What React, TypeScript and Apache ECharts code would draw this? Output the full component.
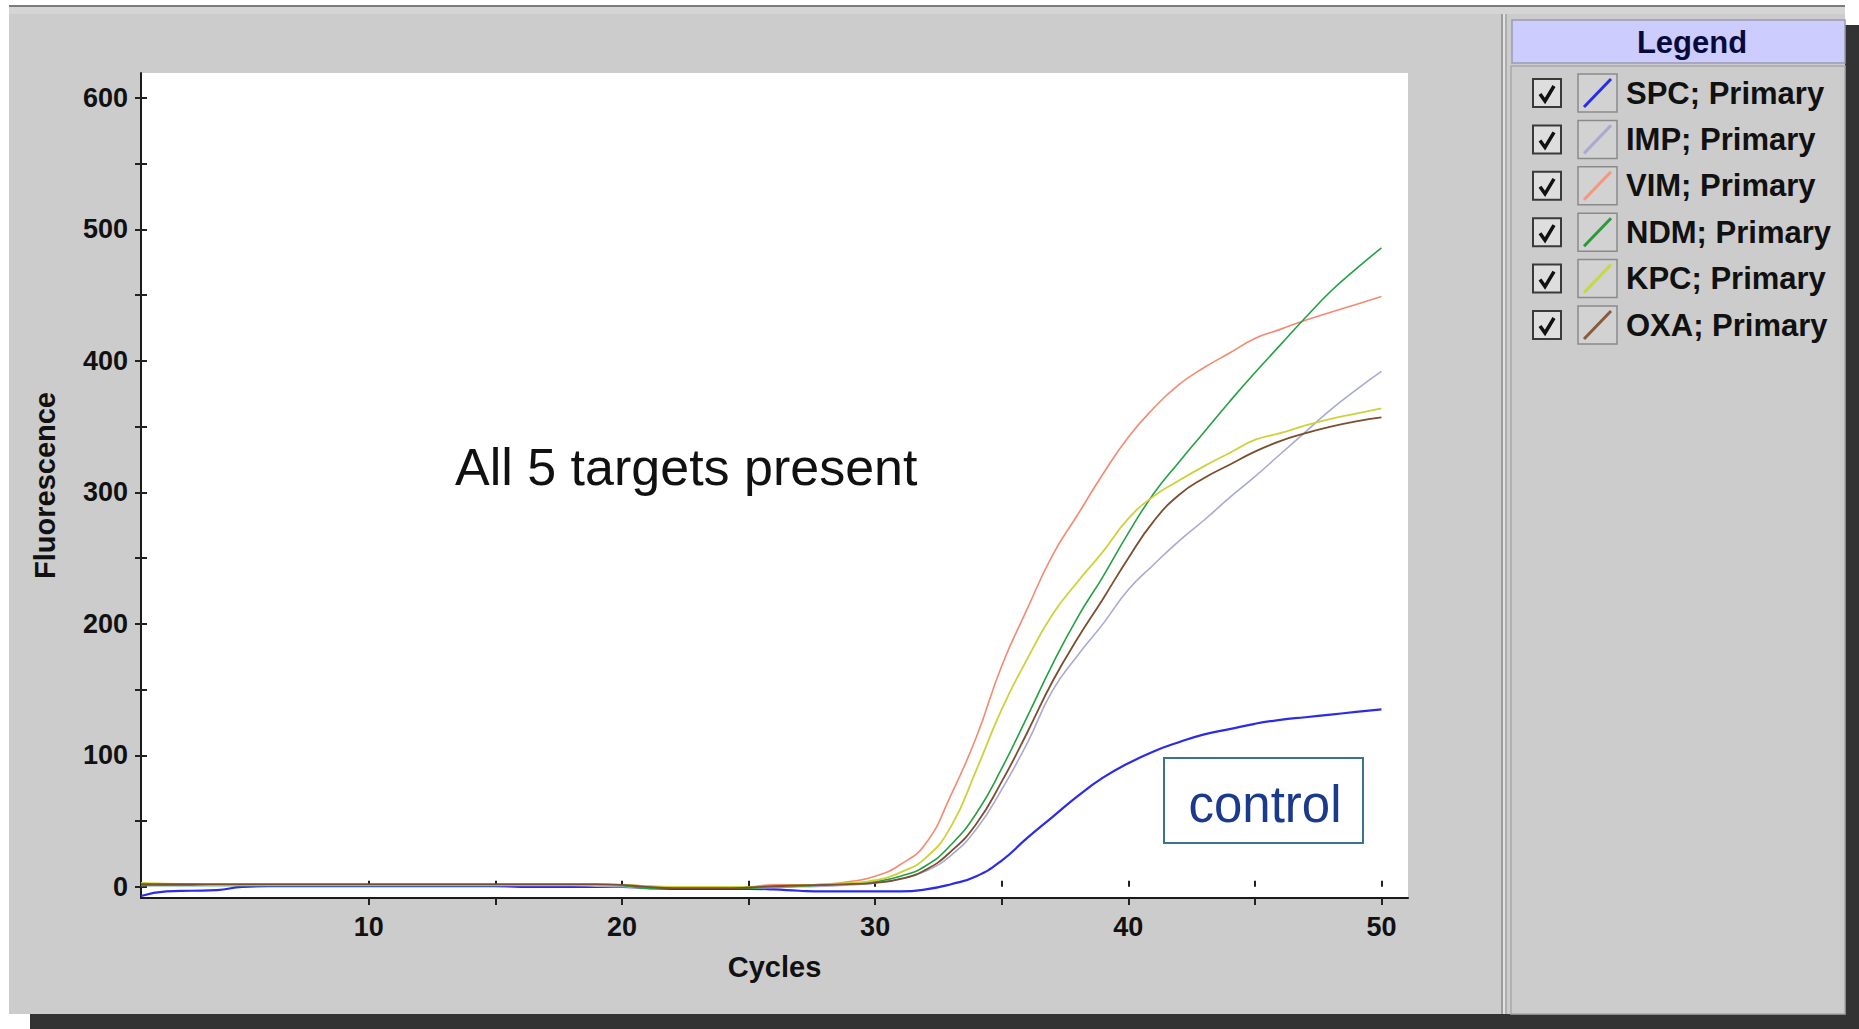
import React, { useEffect, useRef } from "react";
import * as echarts from "echarts";

const cycles = [1, 2, 3, 4, 5, 6, 7, 8, 9, 10, 11, 12, 13, 14, 15, 16, 17, 18, 19, 20, 21, 22, 23, 24, 25, 26, 27, 28, 29, 30, 31, 32, 33, 34, 35, 36, 37, 38, 39, 40, 41, 42, 43, 44, 45, 46, 47, 48, 49, 50];

const seriesNames = ["SPC; Primary", "IMP; Primary", "VIM; Primary", "NDM; Primary", "KPC; Primary", "OXA; Primary"];
const seriesColors = ["#2b2be8", "#a9a9d2", "#f38a72", "#23a043", "#cdd23a", "#7a4e2e"];
const swatchColors = ["#2b2be8", "#a9a9d2", "#f7967e", "#2a9a3a", "#c8d840", "#8a5a3a"];

const spc = [-7, -3.5, -3, -2.5, 0, 0.5, 0.5, 0.5, 0.5, 0.5, 0.5, 0.5, 0.5, 0.5, 0.5, 0, 0, 0, 0, 0, -1, -1.5, -1.5, -1.5, -1.5, -2, -3, -3.5, -3.5, -3.5, -3.5, -2, 2, 8, 20, 37, 53, 69, 83, 94, 103, 110, 116, 120, 124, 127, 129, 131, 133, 135];
const imp = [1, 1, 1, 1, 1, 1, 1, 1, 1, 1, 1, 1, 1, 1, 1, 1, 1, 1, 0.5, 0, -1, -1, -1, -1, -1, -0.5, 0, 0.5, 1.5, 3, 6, 12, 24, 44, 74, 109, 149, 176, 200, 226, 245, 263, 279, 296, 312, 329, 346, 363, 378, 392];
const vim = [2, 1.5, 1.5, 1.5, 1.5, 1.5, 1.5, 1.5, 1.5, 1.5, 1.5, 1.5, 1.5, 1.5, 1.5, 1.5, 1.5, 1.5, 1.5, 1.5, 0.5, -0.5, -0.5, -0.5, 0, 1.5, 1.5, 2, 4, 8, 17, 33, 70, 114, 168, 211, 252, 283, 314, 342, 364, 382, 395, 406, 417, 424, 431, 437, 443, 449];
const ndm = [1, 1, 1, 1, 1, 1, 1, 1, 1, 1, 1, 1, 1, 1, 1, 1.5, 1.5, 1.5, 1.5, 1, -1, -1, -1, -1, -1, 0, 0.5, 1.5, 2.5, 4, 8, 16, 32, 56, 90, 129, 169, 205, 236, 269, 299, 323, 346, 369, 391, 412, 433, 453, 470, 486];
const kpc = [3, 2.5, 2, 1.5, 1.5, 1.5, 1.5, 1.5, 1.5, 1.5, 1.5, 1.5, 1.5, 1.5, 1.5, 1.5, 1.5, 1.5, 1.5, 1.5, 0.5, 0, 0, 0, 0, 0.5, 1, 2, 3, 5, 11, 22, 46, 89, 135, 173, 207, 232, 255, 280, 297, 309, 320, 330, 340, 345, 351, 356, 360, 364];
const oxa = [2, 2, 2, 2, 2, 2, 2, 2, 2, 2, 2, 2, 2, 2, 2, 2, 2, 2, 2, 1.5, 0, -1, -1, -1, -0.5, 0.5, 1, 1.5, 2, 3, 6, 13, 27, 48, 80, 117, 156, 189, 219, 250, 278, 298, 311, 321, 331, 339, 345, 350, 354, 357];
const seriesValues = [spc, imp, vim, ndm, kpc, oxa];
const lineWidths = [2.2, 1.6, 1.6, 1.6, 1.8, 1.8];

const xLabelValues = [10, 20, 30, 40, 50];
const xTickValues = [10, 15, 20, 25, 30, 35, 40, 45, 50];
const yLabelValues = [0, 100, 200, 300, 400, 500, 600];
const yTickValues = [0, 50, 100, 150, 200, 250, 300, 350, 400, 450, 500, 550, 600];

const annotationText = "All 5 targets present";
const controlText = "control";
const legendTitle = "Legend";

const FONT = "'Liberation Sans', Arial, Helvetica, sans-serif";

const GRID = { left: 141, top: 73, width: 1267, height: 825 };
const X_MIN = 1;
const X_MAX = 51.05;
const Y_MIN = -8.5;
const Y_MAX = 619;

export default function App() {
  const ref = useRef<HTMLDivElement>(null);

  useEffect(() => {
    if (!ref.current) return;
    const chart = echarts.init(ref.current, null, { renderer: "svg" });

    const bg: any[] = [
      { type: "rect", z: -5, shape: { x: 30, y: 25, width: 1829, height: 1004 }, style: { fill: "#333333" } },
      { type: "rect", z: -5, shape: { x: 9, y: 5, width: 1836, height: 1009 }, style: { fill: "#cccccc" } },
      { type: "rect", z: -5, shape: { x: 9, y: 5, width: 1836, height: 2 }, style: { fill: "#7c7c7c" } },
      { type: "rect", z: -5, shape: { x: 9, y: 7, width: 1836, height: 7 }, style: { fill: "#d5d5d5" } },
      { type: "rect", z: -5, shape: { x: GRID.left, y: GRID.top, width: GRID.width, height: GRID.height }, style: { fill: "#ffffff" } },
      { type: "rect", z: -5, shape: { x: 1501, y: 14, width: 2, height: 1000 }, style: { fill: "#9c9c9c" } },
      { type: "rect", z: -5, shape: { x: 1503, y: 14, width: 2, height: 1000 }, style: { fill: "#e2e2e2" } },
      { type: "rect", z: -5, shape: { x: 1505, y: 14, width: 2, height: 1000 }, style: { fill: "#adadad" } },
      { type: "rect", z: -5, shape: { x: 1511, y: 66, width: 334, height: 948 }, style: { fill: "#cccccc", stroke: "#a8a8a8", lineWidth: 1.5 } },
      { type: "rect", z: -5, shape: { x: 1512, y: 20, width: 333, height: 43 }, style: { fill: "#ccccff", stroke: "#9a9ab0", lineWidth: 1.5 } },
    ];

    const legendItems: any[] = [];
    const rowY0 = 93;
    const rowPitch = 46.4;
    seriesNames.forEach((name, i) => {
      const cy = rowY0 + i * rowPitch;
      legendItems.push({ type: "rect", z: 10, shape: { x: 1533, y: cy - 14, width: 28, height: 28 }, style: { fill: "#dedede", stroke: "#3a3a3a", lineWidth: 2 } });
      legendItems.push({ type: "polyline", z: 10, shape: { points: [[1540, cy + 1], [1545, cy + 8], [1554, cy - 7]] }, style: { fill: "none", stroke: "#111111", lineWidth: 3.5 } });
      legendItems.push({ type: "rect", z: 10, shape: { x: 1578, y: cy - 19, width: 39, height: 38 }, style: { fill: "#d2d2d2", stroke: "#8a8a8a", lineWidth: 1.5 } });
      legendItems.push({ type: "line", z: 10, shape: { x1: 1584, y1: cy + 14, x2: 1611, y2: cy - 14 }, style: { stroke: swatchColors[i], lineWidth: 3 } });
      legendItems.push({
        type: "text",
        z: 10,
        style: {
          text: name,
          x: 1626,
          y: cy,
          fill: "#111111",
          fontSize: 31,
          fontWeight: "bold",
          fontFamily: FONT,
          align: "left",
          verticalAlign: "middle",
          textAlign: "left",
          textVerticalAlign: "middle",
        },
      });
    });

    const fg: any[] = [
      {
        type: "text",
        z: 10,
        style: {
          text: legendTitle,
          x: 1692,
          y: 42,
          fill: "#0a0a3a",
          fontSize: 31,
          fontWeight: "bold",
          fontFamily: FONT,
          align: "center",
          verticalAlign: "middle",
          textAlign: "center",
          textVerticalAlign: "middle",
        },
      },
      {
        type: "text",
        z: 10,
        style: {
          text: annotationText,
          x: 455,
          y: 467,
          fill: "#111111",
          fontSize: 52,
          fontFamily: FONT,
          align: "left",
          verticalAlign: "middle",
          textAlign: "left",
          textVerticalAlign: "middle",
        },
      },
      { type: "rect", z: 10, shape: { x: 1164, y: 758, width: 199, height: 85 }, style: { fill: "#ffffff", stroke: "#3a7590", lineWidth: 2 } },
      {
        type: "text",
        z: 11,
        style: {
          text: controlText,
          x: 1265,
          y: 804,
          fill: "#1c3a8c",
          fontSize: 51,
          fontFamily: FONT,
          align: "center",
          verticalAlign: "middle",
          textAlign: "center",
          textVerticalAlign: "middle",
        },
      },
    ];

    const labelStyle = { fontSize: 27, fontWeight: "bold" as const, fontFamily: FONT, color: "#111111" };
    const nameStyle = { fontSize: 29, fontWeight: "bold" as const, fontFamily: FONT, color: "#111111" };

    const option: any = {
      animation: false,
      backgroundColor: "#ffffff",
      grid: [
        { ...GRID, show: false, containLabel: false },
        { ...GRID, show: false, containLabel: false },
      ],
      xAxis: [
        {
          type: "value",
          gridIndex: 0,
          min: X_MIN,
          max: X_MAX,
          name: "Cycles",
          nameLocation: "middle",
          nameGap: 54,
          nameTextStyle: nameStyle,
          axisLine: { show: true, onZero: false, lineStyle: { color: "#1a1a1a", width: 2 } },
          axisTick: { show: true, inside: false, length: 7, customValues: xTickValues, lineStyle: { color: "#222222", width: 2 } },
          axisLabel: { show: true, customValues: xLabelValues, margin: 15, ...labelStyle },
          splitLine: { show: false },
        },
        {
          type: "value",
          gridIndex: 1,
          min: X_MIN,
          max: X_MAX,
          axisLine: { show: false },
          axisTick: { show: true, inside: true, length: 6, customValues: xTickValues, lineStyle: { color: "#222222", width: 2 } },
          axisLabel: { show: false },
          splitLine: { show: false },
        },
      ],
      yAxis: [
        {
          type: "value",
          gridIndex: 0,
          min: Y_MIN,
          max: Y_MAX,
          name: "Fluorescence",
          nameLocation: "middle",
          nameGap: 82,
          nameTextStyle: nameStyle,
          axisLine: { show: true, onZero: false, lineStyle: { color: "#1a1a1a", width: 2 } },
          axisTick: { show: true, inside: false, length: 6, customValues: yTickValues, lineStyle: { color: "#222222", width: 2 } },
          axisLabel: { show: true, customValues: yLabelValues, margin: 13, ...labelStyle },
          splitLine: { show: false },
        },
        {
          type: "value",
          gridIndex: 1,
          min: Y_MIN,
          max: Y_MAX,
          axisLine: { show: false },
          axisTick: { show: true, inside: true, length: 6, customValues: yTickValues, lineStyle: { color: "#222222", width: 2 } },
          axisLabel: { show: false },
          splitLine: { show: false },
        },
      ],
      series: seriesNames.map((name, i) => ({
        name,
        type: "line",
        xAxisIndex: 0,
        yAxisIndex: 0,
        data: cycles.map((c, j) => [c, seriesValues[i][j]]),
        showSymbol: false,
        symbol: "none",
        smooth: 0.5,
        lineStyle: { color: seriesColors[i], width: lineWidths[i] },
        itemStyle: { color: seriesColors[i] },
        clip: true,
        silent: true,
      })),
      graphic: { elements: [...bg, ...legendItems, ...fg] },
    };

    chart.setOption(option);
    return () => chart.dispose();
  }, []);

  return <div ref={ref} style={{ position: "fixed", left: 0, top: 0, width: 1859, height: 1029 }} />;
}
